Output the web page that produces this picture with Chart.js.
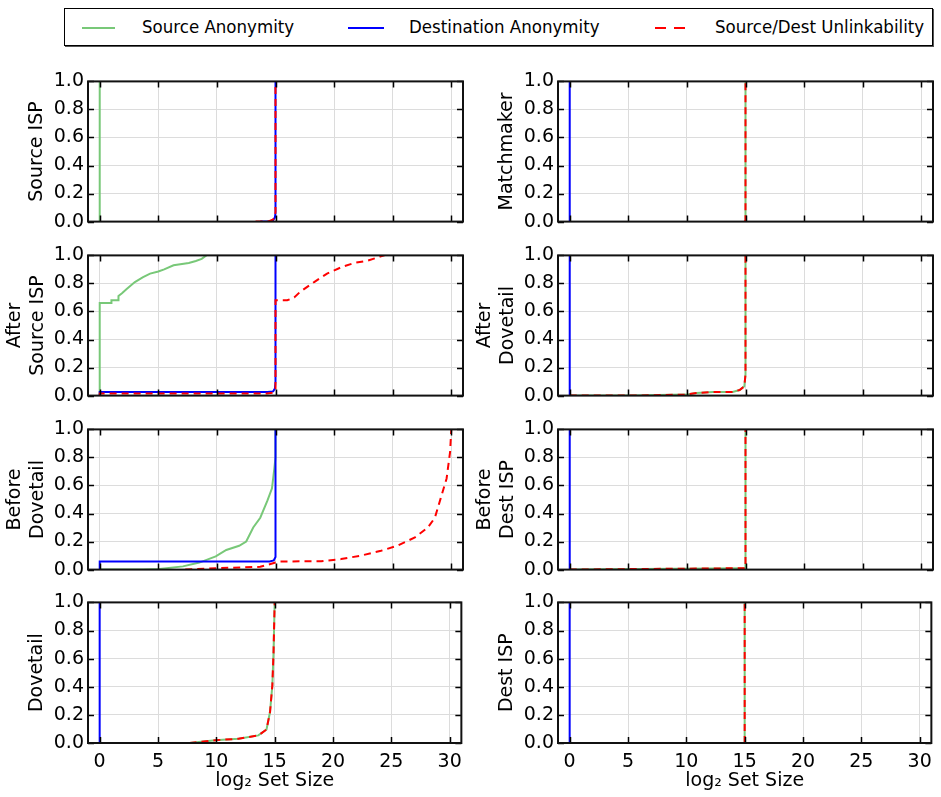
<!DOCTYPE html>
<html>
<head>
<meta charset="utf-8">
<script src="https://cdn.jsdelivr.net/npm/chart.js@4.4.1/dist/chart.umd.min.js"></script>
<style>
  html, body { margin: 0; padding: 0; background: #fff; }
  body { width: 941px; height: 797px; position: relative; overflow: hidden; font-family: "DejaVu Sans", sans-serif; }
  .panel { position: absolute; }
  #legend {
    position: absolute; left: 64px; top: 8px; width: 867px; height: 36px;
    border: 1px solid #000; box-shadow: 1px 1px 0 #555;
    font-family: "DejaVu Sans Condensed", "DejaVu Sans", sans-serif; font-stretch: condensed;
    font-size: 18.5px; color: #000;
  }
  #legend .item { position: absolute; top: 0; height: 36px; line-height: 36px; white-space: nowrap; }
  #legend .swatch { position: absolute; top: 18px; height: 0; }
</style>
</head>
<body>

<div id="legend">
  <div class="swatch" style="left:17px;width:33px;border-top:2px solid #78c878"></div>
  <div class="item" style="left:77px">Source Anonymity</div>
  <div class="swatch" style="left:283px;width:36px;border-top:2px solid #0000ff"></div>
  <div class="item" style="left:344px">Destination Anonymity</div>
  <div class="swatch" style="left:590px;width:11px;border-top:2px solid #ff0000"></div>
  <div class="swatch" style="left:609px;width:11px;border-top:2px solid #ff0000"></div>
  <div class="item" style="left:650px">Source/Dest Unlinkability</div>
</div>

<canvas id="pA" class="panel"></canvas>
<canvas id="pB" class="panel"></canvas>
<canvas id="pC" class="panel"></canvas>
<canvas id="pD" class="panel"></canvas>
<canvas id="pE" class="panel"></canvas>
<canvas id="pF" class="panel"></canvas>
<canvas id="pG" class="panel"></canvas>
<canvas id="pH" class="panel"></canvas>

<script>
// axis ticks
const xTicks = [0, 5, 10, 15, 20, 25, 30];
const yTicks = [0, 0.2, 0.4, 0.6, 0.8, 1.0];

// CDF curves, x = log2 set size, y = cumulative fraction
// Source ISP
const srcA_x = [0, 0];
const srcA_y = [0, 1];
const dstA_x = [13.7, 14.5, 14.8, 14.95, 15, 15];
const dstA_y = [0, 0, 0.01, 0.03, 0.06, 1];
const unlA_x = [13.3, 14.4, 14.8, 14.95, 15, 15];
const unlA_y = [0, 0.002, 0.015, 0.04, 0.07, 1];

// After Source ISP
const srcB_x = [0, 0, 1.0, 1.0, 1.6, 1.6, 1.9, 2.3, 3.0, 3.7, 4.3, 5.0, 5.5, 6.3, 7.6, 8.2, 8.7, 9.1];
const srcB_y = [0, 0.66, 0.66, 0.68, 0.68, 0.71, 0.73, 0.76, 0.81, 0.845, 0.87, 0.885, 0.9, 0.93, 0.946, 0.96, 0.975, 1.0];
const dstB_x = [0, 0, 14.3, 14.8, 14.95, 15, 15];
const dstB_y = [0, 0.025, 0.025, 0.03, 0.05, 0.1, 1];
const unlB_x = [0, 0, 14.3, 14.8, 15, 15, 16.0, 16.6, 17.1, 18.3, 19.4, 20.6, 21.7, 22.9, 24.0, 24.3];
const unlB_y = [0, 0.015, 0.015, 0.02, 0.05, 0.68, 0.68, 0.7, 0.74, 0.81, 0.87, 0.915, 0.946, 0.963, 0.993, 1.0];

// Before Dovetail
const srcC_x = [0, 3.7, 5.1, 7.1, 8.5, 9.9, 10.8, 11.9, 12.5, 13.1, 13.7, 14.3, 14.7, 14.9, 15, 15];
const srcC_y = [0, 0, 0.005, 0.023, 0.05, 0.094, 0.14, 0.17, 0.2, 0.3, 0.37, 0.49, 0.58, 0.72, 0.8, 1];
const dstC_x = [0, 0, 14.5, 14.85, 15, 15];
const dstC_y = [0, 0.058, 0.058, 0.065, 0.09, 1];
const unlC_x = [7.3, 9.9, 13.7, 15, 15.4, 18.9, 20.6, 22.3, 24.0, 25.4, 26.9, 28.0, 28.6, 29.1, 29.6, 29.9, 30.0];
const unlC_y = [0, 0.01, 0.02, 0.05, 0.058, 0.06, 0.075, 0.1, 0.134, 0.17, 0.23, 0.3, 0.37, 0.51, 0.65, 0.84, 1.0];

// Dovetail
const srcD_x = [7.7, 9.9, 11.9, 13.6, 14.3, 14.6, 14.8, 14.9, 15];
const srcD_y = [0, 0.02, 0.03, 0.054, 0.096, 0.22, 0.41, 0.64, 1];
const dstD_x = [0, 0];
const dstD_y = [0, 1];
const unlD_x = [7.7, 9.9, 11.9, 13.6, 14.3, 14.6, 14.8, 14.9, 15];
const unlD_y = [0, 0.02, 0.03, 0.054, 0.096, 0.22, 0.41, 0.64, 1];

// Matchmaker
const srcE_x = [15, 15];
const srcE_y = [0, 1];
const dstE_x = [0, 0];
const dstE_y = [0, 1];
const unlE_x = [14.9, 15, 15];
const unlE_y = [0, 0.005, 1];

// After Dovetail
const srcF_x = [0, 5.1, 9.9, 10.8, 12.2, 13.9, 14.5, 14.9, 15, 15];
const srcF_y = [0, 0, 0.007, 0.018, 0.026, 0.026, 0.04, 0.066, 0.15, 1];
const dstF_x = [0, 0];
const dstF_y = [0, 1];
const unlF_x = [0, 5.1, 9.9, 10.8, 12.2, 13.9, 14.5, 14.9, 15, 15];
const unlF_y = [0, 0, 0.007, 0.018, 0.026, 0.026, 0.04, 0.066, 0.15, 1];

// Before Dest ISP
const srcG_x = [0, 14.9, 15, 15];
const srcG_y = [0, 0.01, 0.01, 1];
const dstG_x = [0, 0];
const dstG_y = [0, 1];
const unlG_x = [0, 14.9, 15, 15];
const unlG_y = [0, 0.01, 0.01, 1];

// Dest ISP
const srcH_x = [15, 15];
const srcH_y = [0, 1];
const dstH_x = [0, 0];
const dstH_y = [0, 1];
const unlH_x = [15, 15];
const unlH_y = [0, 1];

const FONT = { family: "'DejaVu Sans', sans-serif", size: 19 };

function pts(xs, ys) {
    return xs.map((x, i) => ({ x: x, y: ys[i] }));
}

// box around the plot area with inward tick marks on all four sides
const framePlugin = {
    id: 'frame',
    afterDatasetsDraw(chart) {
        const { ctx, chartArea: a, scales } = chart;
        ctx.save();
        ctx.strokeStyle = '#000';
        ctx.lineWidth = 1.5;
        ctx.beginPath();
        xTicks.forEach(v => {
            const px = Math.round(scales.x.getPixelForValue(v)) + 0.5;
            ctx.moveTo(px, a.top); ctx.lineTo(px, a.top + 6);
            ctx.moveTo(px, a.bottom); ctx.lineTo(px, a.bottom - 6);
        });
        yTicks.forEach(v => {
            const py = Math.round(scales.y.getPixelForValue(v)) + 0.5;
            ctx.moveTo(a.left, py); ctx.lineTo(a.left + 6, py);
            ctx.moveTo(a.right, py); ctx.lineTo(a.right - 6, py);
        });
        ctx.stroke();
        ctx.strokeStyle = '#111';
        ctx.lineWidth = 2;
        ctx.strokeRect(a.left, a.top, a.right - a.left, a.bottom - a.top);
        ctx.restore();
    }
};

function makePanel(id, left, top, bottomRow, title, titlePad, src, dst, unl) {
    const el = document.getElementById(id);
    const w = 470;
    const h = bottomRow ? 797 - top : 171;
    el.width = w; el.height = h;
    el.style.left = left + 'px';
    el.style.top = top + 'px';

    return new Chart(el, {
        type: 'line',
        data: {
            datasets: [
                { label: 'Source Anonymity', data: src, borderColor: '#78c878', borderWidth: 2, order: 3 },
                { label: 'Destination Anonymity', data: dst, borderColor: '#0000ff', borderWidth: 2, order: 2 },
                { label: 'Source/Dest Unlinkability', data: unl, borderColor: '#ff0000', borderWidth: 2, borderDash: [7, 5], order: 1 }
            ]
        },
        options: {
            responsive: false,
            animation: false,
            events: [],
            elements: { point: { radius: 0 }, line: { tension: 0, fill: false } },
            layout: { padding: { top: 12, right: 7, left: 0, bottom: 0 } },
            plugins: { legend: { display: false }, tooltip: { enabled: false } },
            scales: {
                x: {
                    type: 'linear', min: -1, max: 31,
                    afterBuildTicks: s => { s.ticks = xTicks.map(v => ({ value: v })); },
                    afterFit: s => { s.height = bottomRow ? 54 : 8; },
                    border: { display: false },
                    grid: { color: '#dcdcdc', lineWidth: 1, drawTicks: false },
                    ticks: { display: bottomRow, font: FONT, color: '#000', padding: 8, maxRotation: 0 },
                    title: { display: bottomRow, text: 'log\u2082 Set Size', font: FONT, color: '#000', padding: { top: 0, bottom: 5 } }
                },
                y: {
                    type: 'linear', min: 0, max: 1,
                    afterBuildTicks: s => { s.ticks = yTicks.map(v => ({ value: v })); },
                    afterFit: s => { s.width = 88; },
                    border: { display: false },
                    grid: { color: '#dcdcdc', lineWidth: 1, drawTicks: false },
                    ticks: { font: FONT, color: '#000', padding: 4, callback: v => v.toFixed(1) },
                    title: { display: true, text: title, font: FONT, color: '#000', padding: { top: titlePad, bottom: 0 } }
                }
            }
        },
        plugins: [framePlugin]
    });
}

const rowTops = [66, 240, 414, 587];

makePanel('pA', 0, rowTops[0], false, 'Source ISP', 26, pts(srcA_x, srcA_y), pts(dstA_x, dstA_y), pts(unlA_x, unlA_y));
makePanel('pB', 0, rowTops[1], false, ['After', 'Source ISP'], 4, pts(srcB_x, srcB_y), pts(dstB_x, dstB_y), pts(unlB_x, unlB_y));
makePanel('pC', 0, rowTops[2], false, ['Before', 'Dovetail'], 4, pts(srcC_x, srcC_y), pts(dstC_x, dstC_y), pts(unlC_x, unlC_y));
makePanel('pD', 0, rowTops[3], true, 'Dovetail', 26, pts(srcD_x, srcD_y), pts(dstD_x, dstD_y), pts(unlD_x, unlD_y));

makePanel('pE', 470, rowTops[0], false, 'Matchmaker', 26, pts(srcE_x, srcE_y), pts(dstE_x, dstE_y), pts(unlE_x, unlE_y));
makePanel('pF', 470, rowTops[1], false, ['After', 'Dovetail'], 4, pts(srcF_x, srcF_y), pts(dstF_x, dstF_y), pts(unlF_x, unlF_y));
makePanel('pG', 470, rowTops[2], false, ['Before', 'Dest ISP'], 4, pts(srcG_x, srcG_y), pts(dstG_x, dstG_y), pts(unlG_x, unlG_y));
makePanel('pH', 470, rowTops[3], true, 'Dest ISP', 26, pts(srcH_x, srcH_y), pts(dstH_x, dstH_y), pts(unlH_x, unlH_y));
</script>
</body>
</html>
